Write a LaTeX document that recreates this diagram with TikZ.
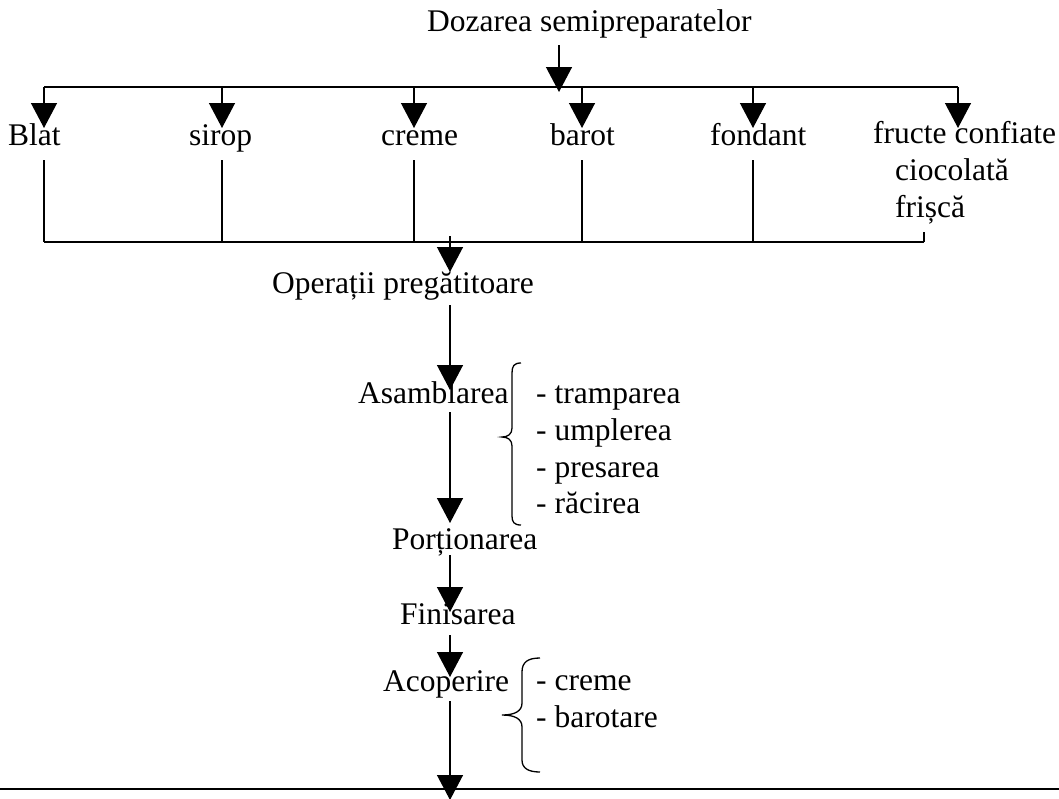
\documentclass[tikz,border=0pt]{standalone}
\usepackage{fontspec}
\setmainfont{Liberation Serif}
\usetikzlibrary{arrows.meta}

\begin{document}
\begin{tikzpicture}[x=1pt,y=-1pt,
  lbl/.style={anchor=base west, inner sep=0pt, font=\fontsize{31.5}{37}\selectfont},
  conn/.style={line width=1.3pt},
  arr/.style={line width=1.3pt, -{Triangle[width=26pt,length=25pt]}},
  bus/.style={line width=2.2pt},
  bracket/.style={line width=1.3pt}]
\useasboundingbox (0,0) rectangle (1059,798);

% texts
\node[lbl] (doz) at (427,31) {Dozarea semipreparatelor};
\node[lbl] (blat) at (8,145) {Blat};
\node[lbl] (sirop) at (189,145) {sirop};
\node[lbl] (creme) at (381,145) {creme};
\node[lbl] (barot) at (550,145) {barot};
\node[lbl] (fond) at (710,145) {fondant};
\node[lbl] (fructe) at (873,143) {fructe confiate};
\node[lbl] (cioc) at (895,180) {ciocolată};
\node[lbl] (frisca) at (895,217) {frișcă};
\node[lbl] (oper) at (272,293) {Operații pregătitoare};
\node[lbl] (asam) at (358,403) {Asamblarea};
\node[lbl] (l1) at (536,403) {- tramparea};
\node[lbl] (l2) at (536,440) {- umplerea};
\node[lbl] (l3) at (536,477) {- presarea};
\node[lbl] (l4) at (536,513) {- răcirea};
\node[lbl] (port) at (392,549) {Porționarea};
\node[lbl] (fin) at (400,624) {Finisarea};
\node[lbl] (acop) at (383,691) {Acoperire};
\node[lbl] (a1) at (536,690) {- creme};
\node[lbl] (a2) at (536,727) {- barotare};

% junction points
\coordinate (topL) at (44,87);
\coordinate (topR) at (958,87);
\coordinate (botL) at (44,242);
\coordinate (botR) at (924,242);
\coordinate (axis) at (450,0);
\coordinate (doz0) at (559,45);
\coordinate (doz1) at (559,92);
\coordinate (frEnd) at (924,232);
\coordinate (endL) at (0,789);
\coordinate (endR) at (1059,789);

% distribution bus
\draw[bus] (topL) -- (topR);
\draw[arr] (doz0) -- (doz1);
\foreach \n/\x in {blat/44, sirop/222, creme/414, barot/582, fond/753, fructe/958}
  \draw[arr] (\x,87) -- (\x,128);

% collecting bus
\foreach \x in {44,222,414,582,753}
  \draw[conn] (\x,160) -- (\x,242);
\draw[conn] (frEnd) -- (botR);
\draw[bus] (botL) -- (botR);
\draw[arr] (450,236) -- (450,272);

% main flow
\draw[arr] (450,305) -- (450,390);
\draw[arr] (450,412) -- (450,523);
\draw[arr] (450,555) -- (450,612);
\draw[arr] (450,635) -- (450,677);
\draw[arr] (450,701) -- (450,800);
\draw[bus] (endL) -- (endR);

% braces
\draw[bracket] (521,363) .. controls (514,363) and (512,366) .. (512,373)
  -- (512,428) .. controls (512,434) and (508,437) .. (502,437)
  .. controls (508,437) and (512,440) .. (512,446)
  -- (512,516) .. controls (512,522) and (514,525) .. (521,525);
\draw[bracket] (540,658) .. controls (528,658) and (522,662) .. (522,672)
  -- (522,703) .. controls (522,711) and (515,715) .. (502,715)
  .. controls (515,715) and (522,719) .. (522,727)
  -- (522,760) .. controls (522,768) and (528,772) .. (540,772);
\end{tikzpicture}
\end{document}
